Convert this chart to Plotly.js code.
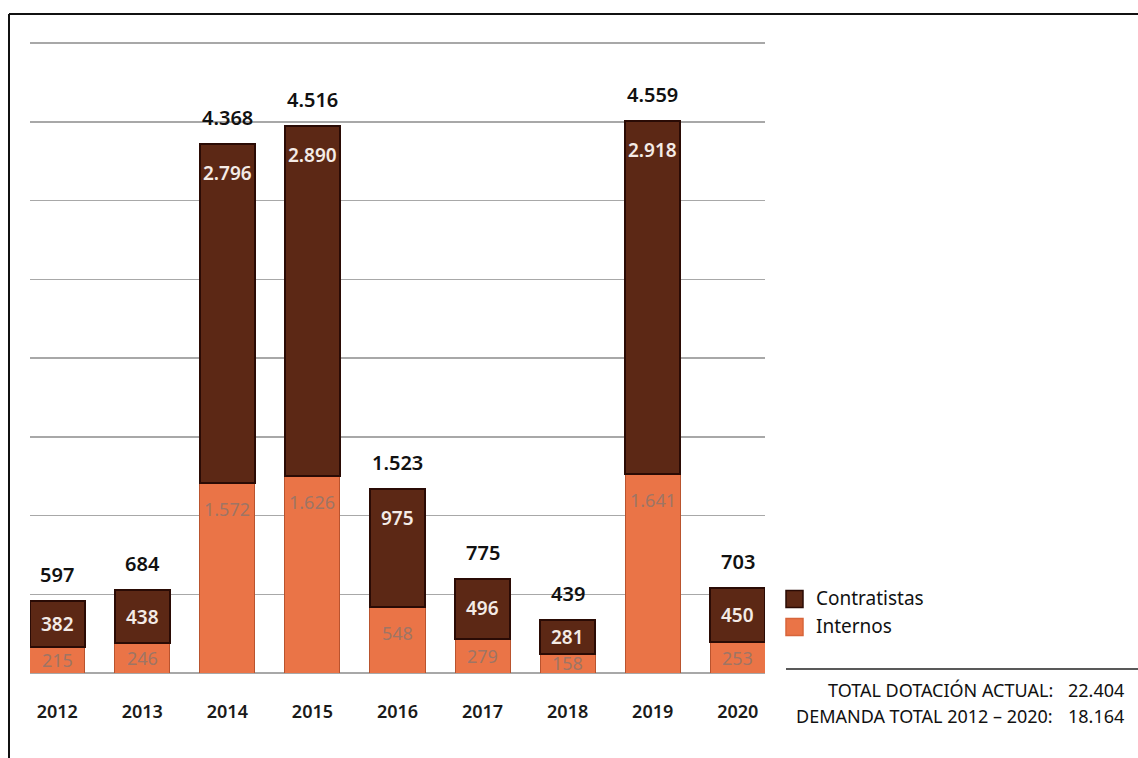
<!DOCTYPE html>
<html>
<head>
<meta charset="utf-8">
<script src="https://cdn.plot.ly/plotly-3.0.1.min.js"></script>
<style>html,body{margin:0;padding:0;background:#fff;}#chart{width:1138px;height:758px;}</style>
</head>
<body>
<div id="chart"></div>
<script>
// ---- data ----
const years = ["2012","2013","2014","2015","2016","2017","2018","2019","2020"];
const internos = [215, 246, 1572, 1626, 548, 279, 158, 1641, 253];
const contratistas = [382, 438, 2796, 2890, 975, 496, 281, 2918, 450];
const seriesNames = ["Contratistas", "Internos"];
const summaryLabels = ["TOTAL DOTACIÓN ACTUAL:", "DEMANDA TOTAL 2012 – 2020:"];
const summaryValues = ["22.404", "18.164"];

// ---- layout helpers ----
const W = 1138, H = 758;
const M = {l: 30, r: 373, t: 31, b: 85};
const plotW = W - M.l - M.r, plotH = H - M.t - M.b;
const px = x => (x - M.l) / plotW;
const py = y => (H - M.b - y) / plotH;
const yMax = 5300;
const unitsPerPx = yMax / plotH;
const fmt = n => n.toLocaleString('de-DE');

const FONT = '"Noto Sans", "Open Sans", sans-serif';
const C_DARK = '#5c2815', C_ORANGE = '#ea7447';

const totals = years.map((_, i) => internos[i] + contratistas[i]);

const traces = [
  {type: 'bar', name: seriesNames[1], x: years, y: internos,
   marker: {color: C_ORANGE, line: {color: '#b9532e', width: 1}},
   hoverinfo: 'x+y+name', showlegend: false},
  {type: 'bar', name: seriesNames[0], x: years, y: contratistas,
   marker: {color: C_DARK, line: {color: '#2a0b05', width: 2}},
   hoverinfo: 'x+y+name', showlegend: false}
];

const annotations = [];
const offC = 29 * unitsPerPx, offI = 26 * unitsPerPx;
years.forEach((yr, i) => {
  annotations.push({x: i, y: totals[i], xref: 'x', yref: 'y', text: fmt(totals[i]),
    showarrow: false, yanchor: 'bottom', yshift: 11,
    font: {family: FONT, size: 20, color: '#111', weight: 600}});
  const yc = Math.max(internos[i] + contratistas[i] / 2, totals[i] - offC);
  annotations.push({x: i, y: yc, xref: 'x', yref: 'y', text: fmt(contratistas[i]),
    showarrow: false, yanchor: 'middle',
    font: {family: FONT, size: 19, color: '#f4ebe6', weight: 600}});
  const yi = Math.max(internos[i] / 2, internos[i] - offI);
  annotations.push({x: i, y: yi, xref: 'x', yref: 'y', text: fmt(internos[i]),
    showarrow: false, yanchor: 'middle',
    font: {family: FONT, size: 18, color: '#9e7565'}});
});

// legend (manual)
const legendItems = [
  {name: seriesNames[0], color: C_DARK, line: '#2a0b05', cy: 599},
  {name: seriesNames[1], color: C_ORANGE, line: '#d7653b', cy: 627}
];
const shapes = [];
legendItems.forEach(it => {
  shapes.push({type: 'rect', xref: 'paper', yref: 'paper',
    x0: px(786), x1: px(803), y0: py(it.cy + 8.5), y1: py(it.cy - 8.5),
    fillcolor: it.color, line: {color: it.line, width: 1.5}});
  annotations.push({xref: 'paper', yref: 'paper', x: px(814), y: py(it.cy - 1), text: it.name,
    showarrow: false, xanchor: 'left', yanchor: 'middle',
    font: {family: FONT, size: 19, color: '#111'}});
});

// summary text
const sumY = [690, 716];
summaryLabels.forEach((t, i) => {
  annotations.push({xref: 'paper', yref: 'paper', x: px(1055), y: py(sumY[i]), text: t,
    showarrow: false, xanchor: 'right', yanchor: 'middle',
    font: {family: FONT, size: 18, color: '#111'}});
  annotations.push({xref: 'paper', yref: 'paper', x: px(1126), y: py(sumY[i]), text: summaryValues[i],
    showarrow: false, xanchor: 'right', yanchor: 'middle',
    font: {family: FONT, size: 18, color: '#111'}});
});

// frame lines
shapes.push({type: 'line', xref: 'paper', yref: 'paper', x0: px(9), x1: px(1140), y0: py(14), y1: py(14),
  line: {color: '#111', width: 2}});
shapes.push({type: 'line', xref: 'paper', yref: 'paper', x0: px(9), x1: px(9), y0: py(14), y1: py(760),
  line: {color: '#111', width: 2}});
shapes.push({type: 'line', xref: 'paper', yref: 'paper', x0: px(786), x1: px(1140), y0: py(669), y1: py(669),
  line: {color: '#222', width: 1.5}});

const layout = {
  width: W, height: H,
  margin: M,
  paper_bgcolor: '#fff', plot_bgcolor: '#fff',
  barmode: 'stack', bargap: 0.353,
  showlegend: false,
  xaxis: {type: 'category', range: [-0.32, 8.32], showgrid: false, zeroline: false,
    showline: false, ticks: 'outside', ticklen: 22, tickcolor: 'rgba(0,0,0,0)',
    tickfont: {family: FONT, size: 18, color: '#1a1a1a', weight: 600}},
  yaxis: {range: [0, yMax], dtick: 650, tick0: 0, showticklabels: false,
    showgrid: true, gridcolor: '#a8a8a8', gridwidth: 1.5,
    zeroline: true, zerolinecolor: '#a8a8a8', zerolinewidth: 1.5, showline: false},
  annotations: annotations,
  shapes: shapes
};

Plotly.newPlot('chart', traces, layout, {displayModeBar: false, staticPlot: true});
</script>
</body>
</html>
